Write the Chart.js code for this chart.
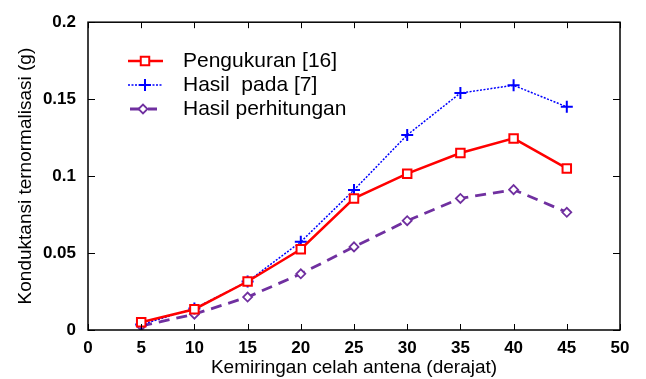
<!DOCTYPE html>
<html>
<head>
<meta charset="utf-8">
<script src="https://cdn.jsdelivr.net/npm/chart.js"></script>
<style>
  html, body { margin: 0; padding: 0; background: #fff; }
  #wrap { width: 646px; height: 379px; }
</style>
</head>
<body>
<div id="wrap"><canvas id="chart" width="646" height="379"></canvas></div>
<script>
// angles (degrees)
const angles = [5, 10, 15, 20, 25, 30, 35, 40, 45];
// measured values [16]
const pengukuran = [0.005, 0.0135, 0.0315, 0.0525, 0.0855, 0.1016, 0.115, 0.1245, 0.105];
// results from [7]
const hasilPada = [0.0035, 0.014, 0.0315, 0.0573, 0.091, 0.1267, 0.154, 0.159, 0.145];
// computed results
const perhitungan = [0.0026, 0.0103, 0.0214, 0.0365, 0.054, 0.071, 0.0855, 0.0912, 0.0765];

const seriesNames = ["Pengukuran [16]", "Hasil  pada [7]", "Hasil perhitungan"];

const FONT = "'Liberation Sans', Arial, Helvetica, sans-serif";

function toPoints(ys) {
    return angles.map((a, i) => ({ x: a, y: ys[i] }));
}

// frame with inward ticks on all four sides
const framePlugin = {
    id: "frame",
    afterDraw(chart) {
        const ctx = chart.ctx;
        const a = chart.chartArea;
        const xs = chart.scales.x, ys = chart.scales.y;
        ctx.save();
        ctx.strokeStyle = "#000";
        ctx.lineWidth = 1.5;
        ctx.strokeRect(a.left, a.top, a.right - a.left, a.bottom - a.top);
        ctx.beginPath();
        xs.ticks.forEach(t => {
            const px = Math.round(xs.getPixelForValue(t.value)) + 0.5;
            ctx.moveTo(px, a.bottom); ctx.lineTo(px, a.bottom - 6);
            ctx.moveTo(px, a.top); ctx.lineTo(px, a.top + 6);
        });
        ys.ticks.forEach(t => {
            const py = Math.round(ys.getPixelForValue(t.value)) + 0.5;
            ctx.moveTo(a.left, py); ctx.lineTo(a.left + 7, py);
            ctx.moveTo(a.right, py); ctx.lineTo(a.right - 7, py);
        });
        ctx.lineWidth = 1;
        ctx.stroke();
        ctx.restore();
    }
};

// legend inside the plot, upper left
const legendPlugin = {
    id: "innerLegend",
    afterDraw(chart) {
        const ctx = chart.ctx;
        const x0 = 128, x1 = 163, tx = 183;
        const rows = [61, 85, 109];
        ctx.save();
        chart.data.datasets.forEach((ds, i) => {
            const y = rows[i];
            ctx.save();
            ctx.strokeStyle = ds.borderColor;
            ctx.lineWidth = ds.borderWidth;
            ctx.setLineDash(ds.borderDash || []);
            ctx.beginPath();
            if (i === 2) { ctx.moveTo(130, y); ctx.lineTo(157, y); }
            else { ctx.moveTo(x0, y); ctx.lineTo(x1, y); }
            ctx.stroke();
            ctx.restore();
            ctx.save();
            ctx.strokeStyle = ds.pointBorderColor;
            ctx.fillStyle = ds.pointBackgroundColor;
            ctx.lineWidth = ds.pointBorderWidth;
            Chart.helpers.drawPoint(ctx, {
                pointStyle: ds.pointStyle,
                radius: ds.pointRadius,
                borderWidth: ds.pointBorderWidth
            }, (i === 2 ? 143 : 145), y);
            ctx.restore();
            ctx.fillStyle = "#000";
            ctx.font = "21px " + FONT;
            ctx.textBaseline = "middle";
            ctx.fillText(seriesNames[i], tx, y);
        });
        ctx.restore();
    }
};

new Chart(document.getElementById("chart"), {
    type: "line",
    data: {
        datasets: [
            {
                label: seriesNames[0],
                data: toPoints(pengukuran),
                borderColor: "#ff0000",
                borderWidth: 2.5,
                pointStyle: "rect",
                pointRadius: 6,
                pointBorderWidth: 2,
                pointBorderColor: "#ff0000",
                pointBackgroundColor: "#ffffff",
                tension: 0
            },
            {
                label: seriesNames[1],
                data: toPoints(hasilPada),
                borderColor: "#0000ff",
                borderWidth: 1.5,
                borderDash: [2, 1.5],
                pointStyle: "cross",
                pointRadius: 6,
                pointBorderWidth: 2,
                pointBorderColor: "#0000ff",
                pointBackgroundColor: "#0000ff",
                tension: 0
            },
            {
                label: seriesNames[2],
                data: toPoints(perhitungan),
                borderColor: "#7030a0",
                borderWidth: 2.8,
                borderDash: [11, 7],
                pointStyle: "rectRot",
                pointRadius: 4.5,
                pointBorderWidth: 1.8,
                pointBorderColor: "#7030a0",
                pointBackgroundColor: "#ffffff",
                tension: 0
            }
        ]
    },
    options: {
        responsive: false,
        animation: false,
        layout: { padding: { top: 19, right: 26, left: 0, bottom: 0 } },
        plugins: {
            legend: { display: false },
            tooltip: { enabled: false }
        },
        scales: {
            x: {
                type: "linear",
                min: 0, max: 50,
                ticks: {
                    stepSize: 5,
                    color: "#000",
                    padding: 8,
                    maxRotation: 0,
                    font: { family: FONT, size: 17, weight: "bold" }
                },
                grid: { display: false, drawTicks: false },
                border: { display: false },
                title: {
                    display: true,
                    text: "Kemiringan celah antena (derajat)",
                    color: "#000",
                    padding: { top: 0, bottom: 0 },
                    font: { family: FONT, size: 19 }
                },
                afterFit(scale) { scale.height = 49; }
            },
            y: {
                min: 0, max: 0.2,
                ticks: {
                    stepSize: 0.05,
                    color: "#000",
                    padding: 12,
                    font: { family: FONT, size: 17, weight: "bold" },
                    callback: v => String(parseFloat(v.toFixed(2)))
                },
                grid: { display: false, drawTicks: false },
                border: { display: false },
                title: {
                    display: true,
                    text: "Konduktansi ternormalisasi (g)",
                    color: "#000",
                    padding: { top: 14, bottom: 0 },
                    font: { family: FONT, size: 19 }
                },
                afterFit(scale) { scale.width = 88; }
            }
        }
    },
    plugins: [framePlugin, legendPlugin]
});
</script>
</body>
</html>
